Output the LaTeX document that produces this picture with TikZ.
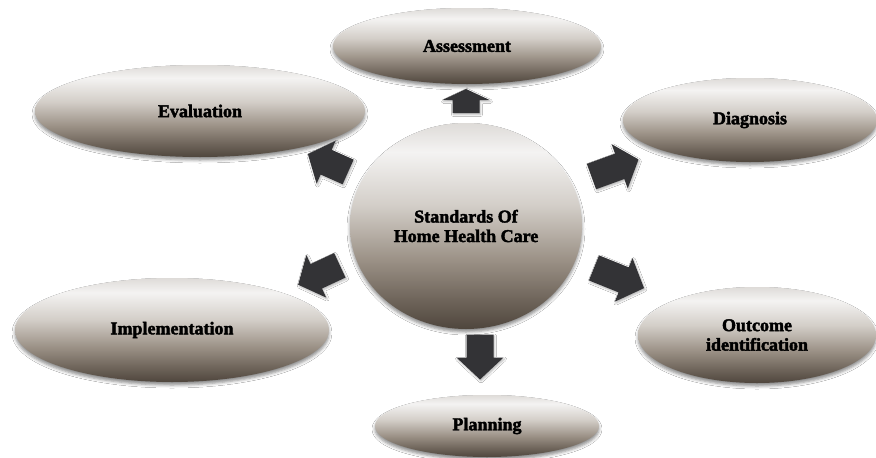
\documentclass[tikz,border=0pt]{standalone}
\usepackage{fontspec}
\newfontfamily\lblfont{Liberation Serif}[BoldFeatures={FakeBold=2.2}]
\usetikzlibrary{shapes.geometric,shadows.blur}

% colours of the oval fill, from bottom to top
\definecolor{ovbot}{HTML}{4F463D}
\definecolor{ovlow}{HTML}{6E645A}
\definecolor{ovmid}{HTML}{9C9287}
\definecolor{ovpale}{HTML}{D3CEC8}
\definecolor{ovhigh}{HTML}{F4F3F2}
\definecolor{ovtop}{HTML}{DEDBD8}
\definecolor{arrowgray}{HTML}{333336}

\pgfdeclareverticalshading{ovalshade}{100bp}{%
  color(0bp)=(ovbot); color(25bp)=(ovbot); color(32bp)=(ovlow);
  color(42bp)=(ovmid); color(55bp)=(ovpale); color(68bp)=(ovhigh);
  color(75bp)=(ovtop); color(100bp)=(ovtop)}

\tikzset{
  stage/.style={ellipse, inner sep=0pt, shade, shading=ovalshade,
    blur shadow={shadow xshift=0pt, shadow yshift=-3pt,
      shadow blur radius=3pt, shadow opacity=45},
    font=\lblfont\bfseries\fontsize{18}{19.5}\selectfont,
    align=center, text=black},
  arrowbody/.style={fill=arrowgray,
    blur shadow={shadow xshift=1pt, shadow yshift=-1.5pt,
      shadow blur radius=2pt, shadow opacity=30}}
}

% block arrow: centre x, centre y, direction, total length, head length
\newcommand\drawblockarrow[5]{%
  \fill[arrowbody, shift={(#1,#2)}, rotate=#3]
    (-#4/2,-13.5) -- (#4/2-#5,-13.5) -- (#4/2-#5,-23.5) -- (#4/2,0)
    -- (#4/2-#5,23.5) -- (#4/2-#5,13.5) -- (-#4/2,13.5) -- cycle;}

\begin{document}
\begin{tikzpicture}[x=1pt,y=-1pt]
  \fill[white] (0,0) rectangle (876,458);
  \useasboundingbox (0,0) rectangle (876,458);

  % the hub and the six stages around it
  \node[stage, minimum width=232pt, minimum height=206pt] (hub) at (466,226)
    {Standards Of\\Home Health Care};
  \node[stage, minimum width=268pt, minimum height=76pt]  (assess)  at (467,46)  {Assessment};
  \node[stage, minimum width=330pt, minimum height=92pt]  (eval)    at (200,111) {Evaluation};
  \node[stage, minimum width=254pt, minimum height=84pt]  (diag)    at (750,120) {Diagnosis};
  \node[stage, minimum width=314pt, minimum height=104pt] (impl)    at (172,330) {Implementation};
  \node[stage, minimum width=238pt, minimum height=96pt]  (outcome) at (757,335) {Outcome\\identification};
  \node[stage, minimum width=224pt, minimum height=62pt]  (plan)    at (487,426) {Planning};

  % block arrows leading out of the hub
  \drawblockarrow{466}{101}{90}{24}{11}
  \drawblockarrow{328}{163}{156}{44}{20}
  \drawblockarrow{615}{168}{20}{50}{20}
  \drawblockarrow{319}{275}{205}{46}{20}
  \drawblockarrow{619}{278}{-22}{54}{22}
  \drawblockarrow{480}{357}{-90}{45}{22}
\end{tikzpicture}
\end{document}
